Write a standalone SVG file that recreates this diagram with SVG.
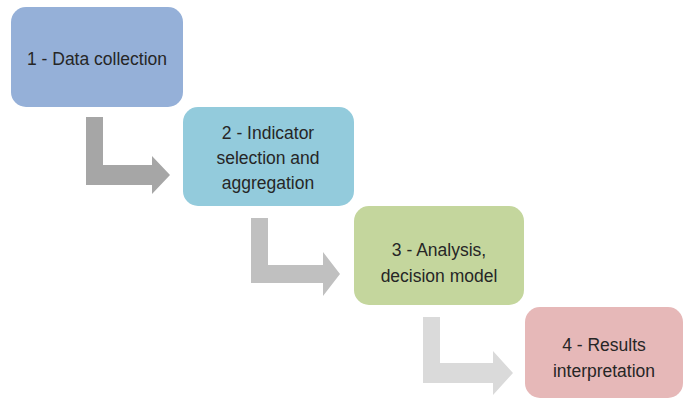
<svg xmlns="http://www.w3.org/2000/svg" width="685" height="402" viewBox="0 0 685 402">
<style>
.box{stroke:none}
.t{font-family:"Liberation Sans",Arial,sans-serif;font-size:17.5px;fill:#262626;text-anchor:middle}
</style>
<rect width="685" height="402" fill="#ffffff"/>
<g id="connectors">
<path d="M86,117 H103 V165 H152 V156 L170,175 L152,194 V185 H86 Z" fill="#a6a6a6"/>
<path d="M251,218 H268 V265 H323 V252 L340,274 L323,296 V283 H251 Z" fill="#c0c0c0"/>
<path d="M423,317 H440 V363 H493 V351 L513,373 L493,395 V383 H423 Z" fill="#dadada"/>
</g>
<g id="node1">
<rect class="box" x="11" y="7" width="172" height="100" rx="15" fill="#95b0d8"/>
<text class="t" x="97" y="65">1 - Data collection</text>
</g>
<g id="node2">
<rect class="box" x="183" y="107" width="171" height="99" rx="15" fill="#93cbdc"/>
<text class="t" x="268" y="139">2 - Indicator</text>
<text class="t" x="268" y="164">selection and</text>
<text class="t" x="268" y="189">aggregation</text>
</g>
<g id="node3">
<rect class="box" x="354" y="206" width="170" height="99" rx="15" fill="#c4d69d"/>
<text class="t" x="439" y="256">3 - Analysis,</text>
<text class="t" x="439" y="282">decision model</text>
</g>
<g id="node4">
<rect class="box" x="525" y="307" width="158" height="91" rx="15" fill="#e6b8b8"/>
<text class="t" x="604" y="351">4 - Results</text>
<text class="t" x="604" y="377">interpretation</text>
</g>
</svg>
